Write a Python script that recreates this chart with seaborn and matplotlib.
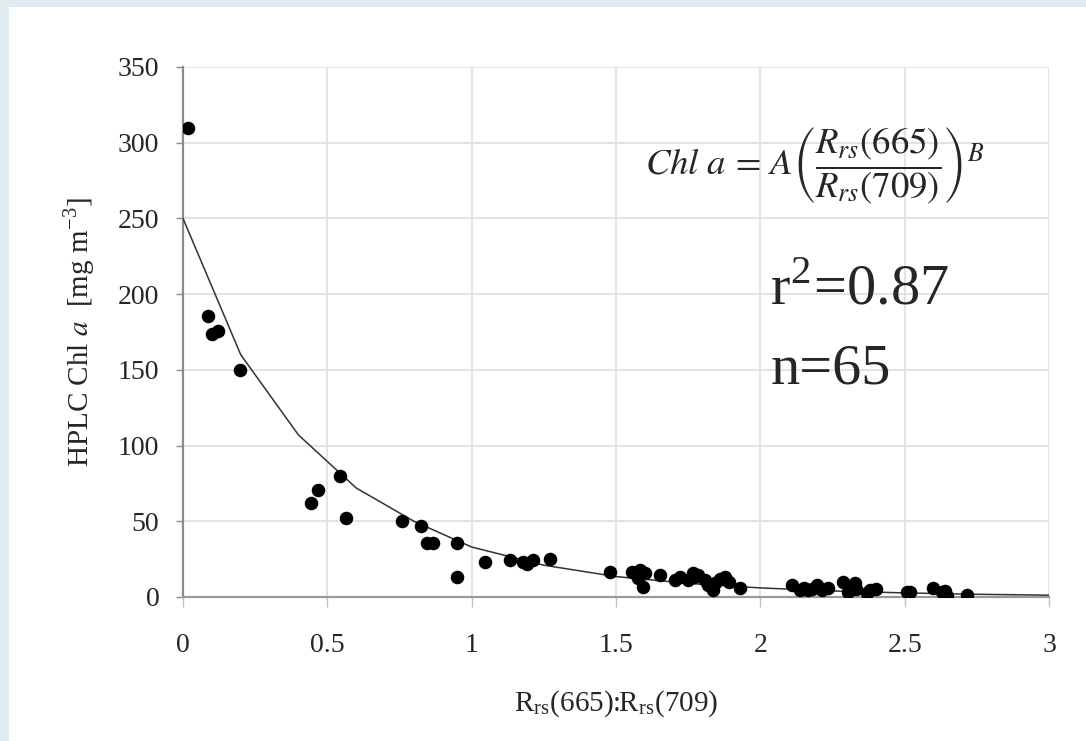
import matplotlib
matplotlib.use("Agg")
import matplotlib.pyplot as plt
import matplotlib.patches as mpatches
import seaborn as sns
import pandas as pd

# ---- data ----
ratio = [0.017, 0.087, 0.100, 0.121, 0.197, 0.443, 0.468, 0.544, 0.565, 0.759,
         0.824, 0.845, 0.865, 0.949, 0.949, 1.046, 1.133, 1.178, 1.190, 1.212,
         1.271, 1.479, 1.555, 1.583, 1.594, 1.576, 1.600, 1.652, 1.704, 1.720,
         1.750, 1.767, 1.770, 1.784, 1.808, 1.820, 1.836, 1.843, 1.860, 1.878,
         1.890, 1.930, 2.110, 2.137, 2.150, 2.165, 2.180, 2.196, 2.213, 2.234,
         2.286, 2.303, 2.310, 2.328, 2.330, 2.370, 2.380, 2.400, 2.508, 2.518,
         2.598, 2.629, 2.640, 2.647, 2.716]
chl = [310, 185.6, 173.7, 175.7, 150, 62, 70.7, 80, 52, 50,
       47, 35.5, 35.5, 35.7, 13, 23, 24.4, 23, 22, 24.4,
       25, 16.5, 16.5, 18, 6.6, 12.5, 16, 14.5, 11, 13,
       11, 16, 13, 14.5, 11, 8, 4.6, 9, 12, 13,
       10, 6, 8, 4.6, 6, 4.6, 5, 8, 4.6, 6,
       10, 3.3, 6.6, 9, 5, 2.6, 4.6, 5.3, 3.3, 3.3,
       6, 3.3, 4, 0.7, 1.3]

fit_x = [0.0, 0.2, 0.4, 0.6, 0.8, 1.0, 1.25, 1.5, 1.75, 2.0, 2.25, 2.5, 2.75, 3.0]
fit_y = [250, 160, 107, 72, 50, 33, 21, 13.5, 9, 6, 4, 2.7, 1.8, 1.2]

x_ticks = [0, 0.5, 1, 1.5, 2, 2.5, 3]
x_ticklabels = ["0", "0.5", "1", "1.5", "2", "2.5", "3"]
y_ticks = [0, 50, 100, 150, 200, 250, 300, 350]
y_ticklabels = ["0", "50", "100", "150", "200", "250", "300", "350"]

pts = pd.DataFrame({"ratio": ratio, "chl": chl})
fit = pd.DataFrame({"x": fit_x, "y": fit_y})

sns.set_style("white")
plt.rcParams["font.family"] = ["Liberation Serif", "DejaVu Serif"]
plt.rcParams["mathtext.fontset"] = "stix"

fig = plt.figure(figsize=(10.86, 7.41), dpi=100)
fig.patch.set_facecolor("white")
# light frame on top and left
fig.patches.append(mpatches.Rectangle((0, 1 - 7 / 741), 1, 7 / 741, transform=fig.transFigure,
                                      facecolor="#e1ecf1", edgecolor="none", zorder=0))
fig.patches.append(mpatches.Rectangle((0, 0), 9 / 1086, 1, transform=fig.transFigure,
                                      facecolor="#e1ecf1", edgecolor="none", zorder=0))

ax = fig.add_axes([183 / 1086, 1 - 597 / 741, (1049 - 183) / 1086, (597 - 67) / 741])
ax.set_facecolor("white")

sns.lineplot(data=fit, x="x", y="y", ax=ax, color="#333333", linewidth=1.1, zorder=3)
sns.scatterplot(data=pts, x="ratio", y="chl", ax=ax, color="black", s=95,
                edgecolor="black", linewidth=0, zorder=4)

ax.set_xlim(0, 3)
ax.set_ylim(0, 350)
ax.set_xticks(x_ticks)
ax.set_xticklabels(x_ticklabels)
ax.set_yticks(y_ticks)
ax.set_yticklabels(y_ticklabels)
ax.grid(True, color="#e0e0e0", linewidth=1.3)
ax.set_axisbelow(True)

for s in ["top", "right"]:
    ax.spines[s].set_visible(False)
ax.spines["left"].set_color("#8a8a8a")
ax.spines["left"].set_linewidth(1.6)
ax.spines["bottom"].set_color("#9a9a9a")
ax.spines["bottom"].set_linewidth(1.6)

ax.tick_params(axis="y", which="major", direction="out", length=5, width=1,
               color="#8a8a8a", labelsize=20, pad=12, left=True)
ax.tick_params(axis="x", which="major", direction="out", length=7, width=1,
               color="#c0c0c0", labelsize=20, pad=19, bottom=True)

ax.set_xlabel(r"R$_{\mathregular{rs}}$(665):R$_{\mathregular{rs}}$(709)", fontsize=21, labelpad=22)
ax.set_ylabel(r"HPLC Chl $a$  [mg m$^{\mathregular{-3}}$]", fontsize=21, labelpad=14)

ax.text(0.925, 0.815,
        r"$Chl\ a\,=\,A\left(\dfrac{R_{rs}(665)}{R_{rs}(709)}\right)^{B}$",
        transform=ax.transAxes, fontsize=26.5, ha="right", va="center")
ax.text(0.678, 0.579, r"r$^{\mathregular{2}}$=0.87", transform=ax.transAxes,
        fontsize=42, ha="left", va="center")
ax.text(0.678, 0.43, "n=65", transform=ax.transAxes,
        fontsize=42, ha="left", va="center")

fig.savefig("out.png", dpi=100, facecolor=fig.get_facecolor())
